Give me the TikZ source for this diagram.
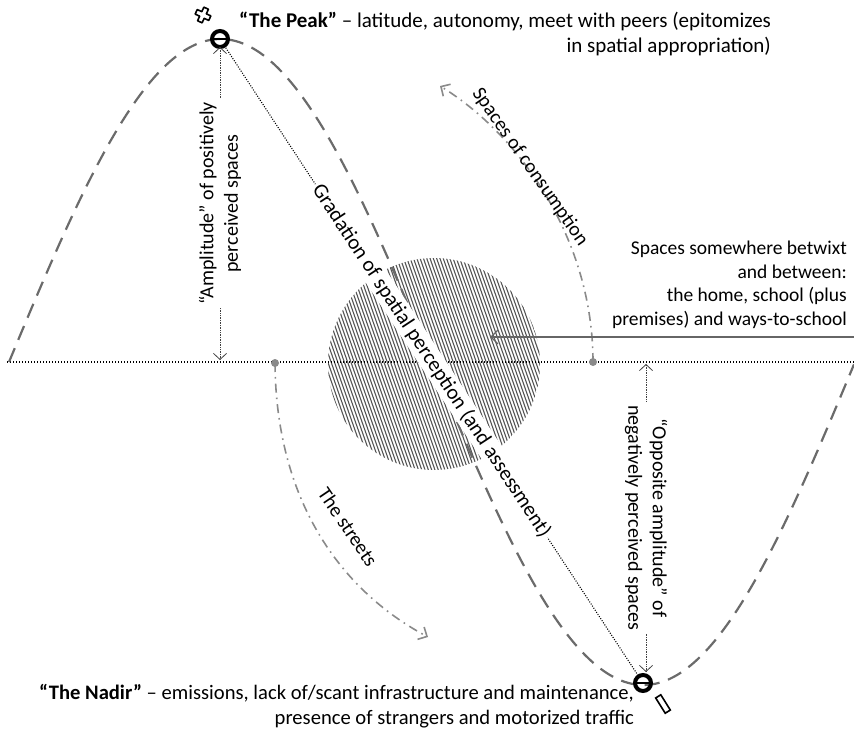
\documentclass[tikz,border=0pt]{standalone}
\usepackage{fontspec}
\setmainfont{Carlito}
\usetikzlibrary{arrows.meta}

\definecolor{curvegray}{HTML}{6B6B6B}
\definecolor{arcgray}{HTML}{8A8A8A}
\definecolor{hatchgray}{HTML}{555555}
\definecolor{pointergray}{HTML}{666666}

\begin{document}
\begin{tikzpicture}[x=1pt,y=-1pt,
  txt/.style={font=\fontsize{20}{24.5}\selectfont, inner sep=0pt},
  bigtxt/.style={font=\fontsize{21}{25}\selectfont, inner sep=0pt},
  wave/.style={line width=2.2pt, draw=curvegray, dash pattern=on 15pt off 9pt},
  axisline/.style={line width=2pt, dash pattern=on 1.4pt off 1.6pt},
  ampline/.style={line width=0.8pt, draw=black!75, dash pattern=on 0.8pt off 0.9pt,
    {Straight Barb[length=6pt,width=13pt]}-{Straight Barb[length=6pt,width=13pt]}},
  gradline/.style={line width=1.1pt, dash pattern=on 1pt off 1.5pt},
  dashdot/.style={line width=1.6pt, draw=arcgray,
    dash pattern=on 9pt off 5pt on 1.6pt off 5pt, -{Straight Barb[length=7pt,width=14pt]}},
  ring/.style={circle, draw, line width=4pt, minimum size=16pt, inner sep=0pt, outer sep=0pt},
  dotmark/.style={circle, fill=arcgray, minimum size=8pt, inner sep=0pt},
  hatch/.style={line width=1.1pt, draw=hatchgray}
]
\useasboundingbox (0,0) rectangle (854,733);

% hatched disc in the middle
\begin{scope}
  \clip (434,364) circle[radius=106];
  \foreach \i in {0,...,96}
    \draw[hatch] ({272+\i*3.3},250) -- ({352+\i*3.3},478);
\end{scope}

% horizontal axis
\coordinate (axL) at (7,362);
\coordinate (axR) at (854,362);
\draw[axisline] (axL) -- (axR);

% the wave of spatial perception
\draw[wave] plot[domain=9:854, samples=240] (\x, {362-323*sin((\x-9)*0.425532)});

% peak and nadir markers
\node[ring] (peak) at (220,39) {};
\draw[line width=2.5pt] (peak.west) -- (peak.east);
\node[ring] (nadir) at (643,683) {};
\draw[line width=2.5pt] (nadir.west) -- (nadir.east);

\begin{scope}[shift={(203,15)}, rotate=-25]
  \draw[line width=1.6pt, line join=round]
    (-2.5,-7.5) -- (2.5,-7.5) -- (2.5,-2.5) -- (7.5,-2.5) -- (7.5,2.5) -- (2.5,2.5)
    -- (2.5,7.5) -- (-2.5,7.5) -- (-2.5,2.5) -- (-7.5,2.5) -- (-7.5,-2.5) -- (-2.5,-2.5) -- cycle;
\end{scope}
\node[draw, line width=1.6pt, minimum width=18pt, minimum height=6pt, inner sep=0pt,
  rotate=-58] (minus) at (663,704) {};

% amplitude arrows
\coordinate (pfoot) at (220,360);
\coordinate (nfoot) at (646,364);
\coordinate (ntop) at (646,672);
\draw[ampline] (peak.south) -- node[txt, fill=white, inner sep=3pt, rotate=90, align=center] (amptxt)
  {“Amplitude” of positively\\perceived spaces} (pfoot);
\draw[ampline] (nfoot) -- node[txt, fill=white, inner sep=3pt, rotate=-90, align=center] (opptxt)
  {“Opposite amplitude” of\\negatively perceived spaces} (ntop);

% arcs for consumption and streets
\node[dotmark] (cdot) at (593,362) {};
\coordinate (ctip) at (440,86);
\draw[dashdot] (cdot.center) .. controls (593,240) and (520,135) .. (ctip);
\node[txt, rotate=-55] (constxt) at (530,167) {Spaces of consumption};

\node[dotmark] (sdot) at (275,363) {};
\coordinate (stip) at (428,637);
\draw[dashdot] (sdot.center) .. controls (276,500) and (340,590) .. (stip);
\node[txt, rotate=-56] (streettxt) at (348,527) {The streets};

% pointer to the disc
\coordinate (pstart) at (854,337);
\coordinate (pend) at (490,337);
\draw[line width=1.3pt, draw=pointergray, -{Straight Barb[length=7pt,width=14pt]}] (pstart) -- (pend);

% diagonal gradation line
\draw[gradline] (peak) -- node[bigtxt, sloped, fill=white, inner sep=2.5pt] (gradtxt)
  {Gradation of spatial perception (and assessment)} (nadir);

% descriptive texts
\node[bigtxt, anchor=north west, align=right] (peaktxt) at (239,12)
  {\textbf{“The Peak”} – latitude, autonomy, meet with peers (epitomizes\\in spatial appropriation)};
\node[txt, font=\fontsize{19.5}{23.5}\selectfont, anchor=north east, align=right] (midtxt) at (847,241)
  {Spaces somewhere betwixt\\and between:\\the home, school (plus\\premises) and ways-to-school};
\node[txt, font=\fontsize{20.6}{25}\selectfont, anchor=north west, align=right] (nadirtxt) at (39,684)
  {\textbf{“The Nadir”} – emissions, lack of/scant infrastructure and maintenance,\\presence of strangers and motorized traffic};
\end{tikzpicture}
\end{document}
